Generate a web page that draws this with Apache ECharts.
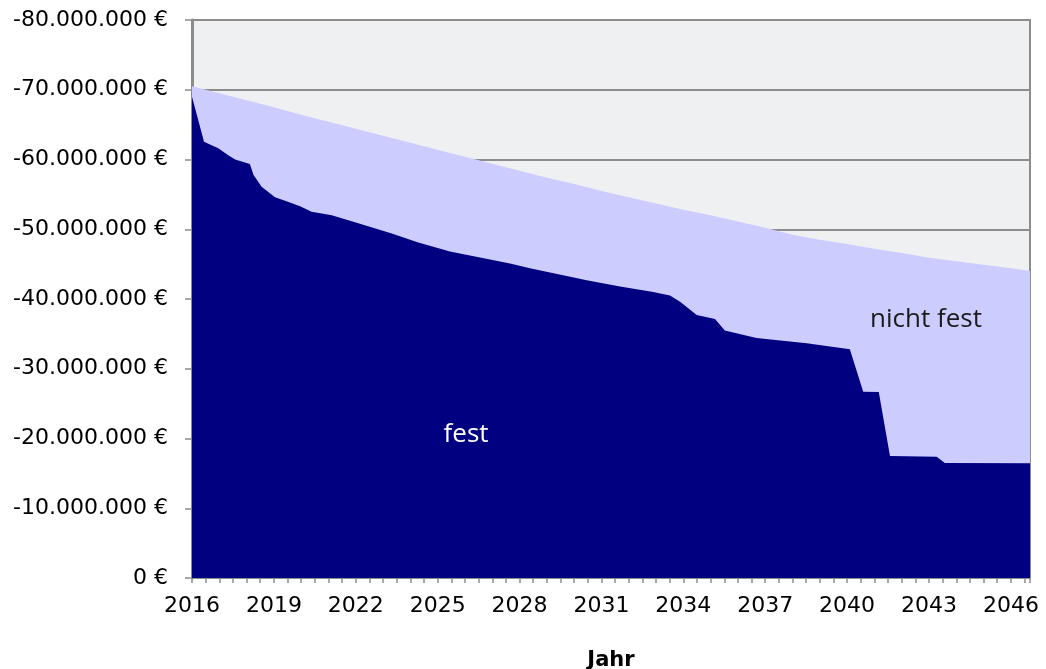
<!DOCTYPE html>
<html>
<head>
<meta charset="UTF-8">
<title>fest / nicht fest</title>
<style>
html, body { margin: 0; padding: 0; background: #fff; }
#chart { width: 1046px; height: 669px; }
</style>
</head>
<body>
<div id="chart"></div>
<script src="https://cdn.jsdelivr.net/npm/echarts@6/dist/echarts.min.js"></script>
<script>
// Jahr und Betrag in Mio. Euro (negativ)
var gesamtJahre = [2016, 2017, 2018, 2019, 2020, 2021, 2022, 2023, 2024, 2025, 2025.27, 2026, 2027, 2028, 2029, 2030, 2030.58,
	2031, 2032, 2033, 2034, 2035, 2036, 2037, 2038, 2039, 2040, 2041, 2042, 2043, 2044, 2045, 2046, 2046.7];
var gesamtWerte = [-70.5, -69.5, -68.5, -67.5, -66.4, -65.4, -64.4, -63.4, -62.4, -61.4, -61.1, -60.4, -59.4, -58.4, -57.4, -56.5, -55.9,
	-55.5, -54.6, -53.7, -52.8, -52.0, -51.1, -50.2, -49.2, -48.5, -47.9, -47.2, -46.6, -45.9, -45.4, -44.9, -44.4, -44.0];

var festJahre = [2016, 2016.44, 2016.96, 2017.33, 2017.58, 2018.12, 2018.25, 2018.55, 2019.04, 2019.41, 2019.96, 2020.38,
	2021.12, 2022.09, 2023.32, 2024.29, 2025.45, 2027.65, 2028.38, 2030.46, 2031.68, 2032.9, 2033.51, 2033.88, 2034.49,
	2035.16, 2035.52, 2036.68, 2038.52, 2040.1, 2040.59, 2041.16, 2041.57, 2043.28, 2043.58, 2046.7];
var festWerte = [-69.0, -62.55, -61.6, -60.6, -60.0, -59.35, -57.8, -56.1, -54.6, -54.1, -53.3, -52.5,
	-52.0, -50.85, -49.4, -48.1, -46.8, -45.1, -44.4, -42.7, -41.8, -41.0, -40.5, -39.6, -37.7,
	-37.15, -35.5, -34.4, -33.65, -32.8, -26.7, -26.65, -17.5, -17.4, -16.5, -16.45];

var festText = [2026.04, -20.5];
var nichtFestText = [2042.89, -37.0];

function paare(xs, ys) {
	var arr = [];
	for (var i = 0; i < xs.length; i++) arr.push([xs[i], ys[i]]);
	return arr;
}

var grau = '#8c8c8c';
var chart = echarts.init(document.getElementById('chart'));
var option = {
	animation: false,
	grid: {
		left: 192, right: 16, top: 20, bottom: 91,
		outerBoundsMode: 'none', containLabel: false,
		show: true, backgroundColor: '#eff0f2', borderColor: grau, borderWidth: 2
	},
	xAxis: {
		type: 'value',
		min: 2016, max: 2046.7, interval: 3,
		name: 'Jahr', nameLocation: 'middle', nameGap: 72,
		nameTextStyle: { fontFamily: 'DejaVu Sans', fontWeight: 'bold', fontSize: 21, color: '#000' },
		axisLine: { lineStyle: { color: grau, width: 2 } },
		axisTick: { length: 5, lineStyle: { color: grau, width: 1.5 } },
		minorTick: { show: true, splitNumber: 6, length: 5, lineStyle: { color: grau, width: 1.5 } },
		splitLine: { show: false },
		axisLabel: {
			fontFamily: 'DejaVu Sans', fontSize: 22, color: '#000', margin: 17,
			formatter: function (v) { return Number.isInteger(v) ? String(v) : ''; }
		}
	},
	yAxis: {
		type: 'value',
		min: -80, max: 0, interval: 10, inverse: true,
		axisLine: { show: true, lineStyle: { color: grau, width: 3 } },
		axisTick: { show: true, length: 7, lineStyle: { color: grau, width: 1.5 } },
		splitLine: { lineStyle: { color: grau, width: 2 } },
		axisLabel: {
			fontFamily: 'DejaVu Sans', fontSize: 22, color: '#000', margin: 24,
			formatter: function (v) { return v === 0 ? '0 €' : '-' + Math.abs(v) + '.000.000 €'; }
		}
	},
	series: [
		{
			name: 'nicht fest', type: 'line', data: paare(gesamtJahre, gesamtWerte),
			symbol: 'none', lineStyle: { width: 0 }, itemStyle: { color: '#ccccff' },
			areaStyle: { color: '#ccccff', opacity: 1 },
			markPoint: {
				symbolSize: 0,
				data: [{ coord: nichtFestText, value: 'nicht fest' }],
				label: { show: true, position: 'inside', formatter: 'nicht fest', fontFamily: 'Open Sans', fontSize: 26, color: '#1a1a1a' }
			}
		},
		{
			name: 'fest', type: 'line', data: paare(festJahre, festWerte),
			symbol: 'none', lineStyle: { width: 0 }, itemStyle: { color: '#000080' },
			areaStyle: { color: '#000080', opacity: 1 },
			markPoint: {
				symbolSize: 0,
				data: [{ coord: festText, value: 'fest' }],
				label: { show: true, position: 'inside', formatter: 'fest', fontFamily: 'Open Sans', fontSize: 26, color: '#ffffff' }
			}
		}
	]
};
chart.setOption(option);
</script>
</body>
</html>
